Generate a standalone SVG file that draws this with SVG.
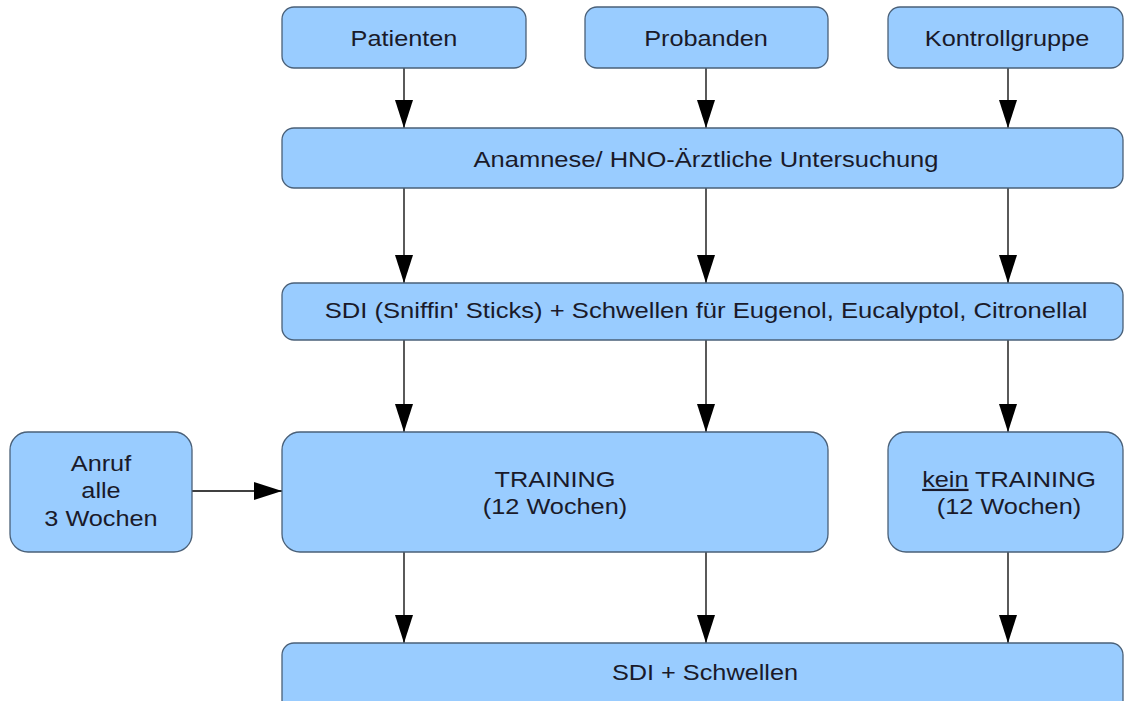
<svg xmlns="http://www.w3.org/2000/svg" width="1125" height="701" viewBox="0 0 1125 701">
<style>
.box{fill:#99ccff;stroke:#4a6078;stroke-width:1.3}
.t{font-family:"Liberation Sans",Arial,sans-serif;font-size:22px;fill:#1a1a2a;text-anchor:middle}
.c{stroke:#000;stroke-width:1.3;fill:none}
</style>
<defs>
<marker id="ah" markerUnits="userSpaceOnUse" markerWidth="28" markerHeight="18" refX="28" refY="9" orient="auto">
<path d="M0,0 L28,9 L0,18 Z" fill="#000"/>
</marker>
</defs>
<rect width="1125" height="701" fill="#fff"/>
<g id="connectors">
<line class="c" x1="404" y1="68" x2="404" y2="128" marker-end="url(#ah)"/>
<line class="c" x1="706" y1="68" x2="706" y2="128" marker-end="url(#ah)"/>
<line class="c" x1="1008" y1="68" x2="1008" y2="128" marker-end="url(#ah)"/>
<line class="c" x1="404" y1="188" x2="404" y2="283" marker-end="url(#ah)"/>
<line class="c" x1="706" y1="188" x2="706" y2="283" marker-end="url(#ah)"/>
<line class="c" x1="1008" y1="188" x2="1008" y2="283" marker-end="url(#ah)"/>
<line class="c" x1="404" y1="340" x2="404" y2="432" marker-end="url(#ah)"/>
<line class="c" x1="706" y1="340" x2="706" y2="432" marker-end="url(#ah)"/>
<line class="c" x1="1008" y1="340" x2="1008" y2="432" marker-end="url(#ah)"/>
<line class="c" x1="192" y1="491" x2="282" y2="491" marker-end="url(#ah)"/>
<line class="c" x1="404" y1="552" x2="404" y2="643" marker-end="url(#ah)"/>
<line class="c" x1="706" y1="552" x2="706" y2="643" marker-end="url(#ah)"/>
<line class="c" x1="1008" y1="552" x2="1008" y2="643" marker-end="url(#ah)"/>
</g>
<g id="patienten"><rect class="box" x="282" y="7" width="244" height="61" rx="12"/><g transform="translate(404,0) scale(1.15,1)"><text class="t" x="0" y="46">Patienten</text></g></g>
<g id="probanden"><rect class="box" x="585" y="7" width="243" height="61" rx="12"/><g transform="translate(706,0) scale(1.15,1)"><text class="t" x="0" y="46">Probanden</text></g></g>
<g id="kontrollgruppe"><rect class="box" x="888" y="7" width="235" height="61" rx="12"/><g transform="translate(1007,0) scale(1.15,1)"><text class="t" x="0" y="46">Kontrollgruppe</text></g></g>
<g id="anamnese"><rect class="box" x="282" y="128" width="841" height="60" rx="12"/><g transform="translate(706,0) scale(1.16,1)"><text class="t" x="0" y="167">Anamnese/ HNO-Ärztliche Untersuchung</text></g></g>
<g id="sdi1"><rect class="box" x="282" y="283" width="841" height="57" rx="12"/><g transform="translate(706,0) scale(1.165,1)"><text class="t" x="0" y="318">SDI (Sniffin' Sticks) + Schwellen für Eugenol, Eucalyptol, Citronellal</text></g></g>
<g id="anruf"><rect class="box" x="10" y="432" width="182" height="120" rx="18"/><g transform="translate(101,0) scale(1.15,1)"><text class="t" x="0" y="471">Anruf</text><text class="t" x="0" y="498">alle</text><text class="t" x="0" y="526">3 Wochen</text></g></g>
<g id="training"><rect class="box" x="282" y="432" width="546" height="120" rx="18"/><g transform="translate(555,0) scale(1.15,1)"><text class="t" x="0" y="487">TRAINING</text><text class="t" x="0" y="514">(12 Wochen)</text></g></g>
<g id="kein-training"><rect class="box" x="888" y="432" width="235" height="120" rx="18"/><g transform="translate(1009,0) scale(1.15,1)"><text class="t" x="0" y="487"><tspan text-decoration="underline">kein</tspan> TRAINING</text><text class="t" x="0" y="514">(12 Wochen)</text></g></g>
<g id="sdi2"><rect class="box" x="282" y="643" width="841" height="70" rx="12"/><g transform="translate(705,0) scale(1.15,1)"><text class="t" x="0" y="680">SDI + Schwellen</text></g></g>
</svg>
